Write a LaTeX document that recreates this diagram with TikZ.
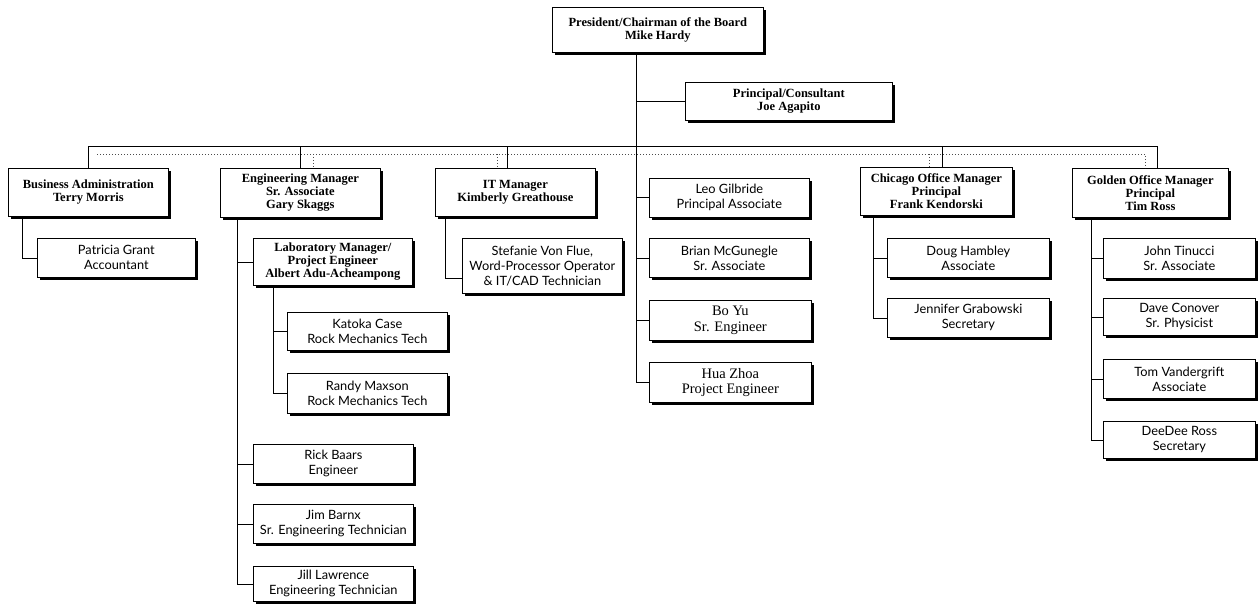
\documentclass[tikz,border=0pt]{standalone}
\usepackage{fontspec}
\setmainfont{Liberation Serif}
\newfontfamily\staffsans{Lato}
\usetikzlibrary{shadows}
\begin{document}
\begin{tikzpicture}[x=1pt,y=-1pt,
  box/.style={draw=black, line width=0.7pt, fill=white, align=center, inner sep=1pt,
    anchor=north west,
    general shadow={fill=black, shadow xshift=3pt, shadow yshift=-3pt}},
  head/.style={box, font=\fontsize{12.5}{13}\selectfont\bfseries},
  staff/.style={box, font=\staffsans\fontsize{12.8}{15}\selectfont},
  seriff/.style={box, font=\fontsize{14.5}{15.5}\selectfont},
  link/.style={draw=black, line width=0.7pt},
  dotlink/.style={draw=black!70, line width=0.5pt, dash pattern=on 1pt off 2pt}]
\useasboundingbox (0,0) rectangle (1260,604);
\fill[white] (0,0) rectangle (1260,604);

% top
\node[head, minimum width=211pt, minimum height=45pt] (pres) at (552,7) {President/Chairman of the Board\\Mike Hardy};
\node[head, minimum width=207pt, minimum height=38pt] (princ) at (685,82) {Principal/Consultant\\Joe Agapito};

% headers
\node[head, minimum width=160pt, minimum height=48pt] (ba) at (8,168) {Business Administration\\Terry Morris};
\node[head, minimum width=160pt, minimum height=49pt] (em) at (220,168) {Engineering Manager\\Sr. Associate\\Gary Skaggs};
\node[head, minimum width=160pt, minimum height=48pt] (it) at (435,168) {IT Manager\\Kimberly Greathouse};
\node[head, minimum width=152pt, minimum height=48pt] (chi) at (860,167) {Chicago Office Manager\\Principal\\Frank Kendorski};
\node[head, minimum width=156pt, minimum height=49pt] (gold) at (1072,168) {Golden Office Manager\\Principal\\Tim Ross};

% business admin
\node[staff, minimum width=158pt, minimum height=39pt] (pg) at (37,238) {Patricia Grant\\Accountant};

% engineering
\node[head, minimum width=159pt, minimum height=47pt] (lab) at (253,238) {Laboratory Manager/\\Project Engineer\\Albert Adu-Acheampong};
\node[staff, minimum width=160pt, minimum height=38pt] (kc) at (287,312) {Katoka Case\\Rock Mechanics Tech};
\node[staff, minimum width=160pt, minimum height=40pt] (rm) at (287,373) {Randy Maxson\\Rock Mechanics Tech};
\node[staff, minimum width=160pt, minimum height=39pt] (rb) at (253,444) {Rick Baars\\Engineer};
\node[staff, minimum width=160pt, minimum height=39pt] (jb) at (253,504) {Jim Barnx\\Sr. Engineering Technician};
\node[staff, minimum width=160pt, minimum height=35pt] (jl) at (253,566) {Jill Lawrence\\Engineering Technician};

% IT
\node[staff, minimum width=160pt, minimum height=55pt] (sv) at (462,238) {Stefanie Von Flue,\\Word-Processor Operator\\\& IT/CAD Technician};

% middle column
\node[staff, minimum width=160pt, minimum height=39pt] (lg) at (649,178) {Leo Gilbride\\Principal Associate};
\node[staff, minimum width=160pt, minimum height=39pt] (bm) at (649,238) {Brian McGunegle\\Sr. Associate};
\node[seriff, minimum width=162pt, minimum height=40pt] (by) at (649,300) {Bo Yu\\Sr. Engineer};
\node[seriff, minimum width=162pt, minimum height=40pt] (hz) at (649,362) {Hua Zhoa\\Project Engineer};

% Chicago
\node[staff, minimum width=162pt, minimum height=39pt] (dh) at (887,238) {Doug Hambley\\Associate};
\node[staff, minimum width=162pt, minimum height=39pt] (jg) at (887,298) {Jennifer Grabowski\\Secretary};

% Golden
\node[staff, minimum width=152pt, minimum height=40pt] (jt) at (1103,238) {John Tinucci\\Sr. Associate};
\node[staff, minimum width=152pt, minimum height=37pt] (dc) at (1103,298) {Dave Conover\\Sr. Physicist};
\node[staff, minimum width=152pt, minimum height=39pt] (tv) at (1103,359) {Tom Vandergrift\\Associate};
\node[staff, minimum width=152pt, minimum height=37pt] (dr) at (1103,421) {DeeDee Ross\\Secretary};

% ---- connectors ----
\coordinate (ptr) at ([xshift=84pt]pres.south west);
\coordinate (busy) at (0,146);
\coordinate (doty) at (0,154);
\coordinate (gtop) at ([xshift=85pt]gold.north west);

% trunk from president
\draw[link] (ptr) |- (hz.west);
\draw[link] (ptr |- princ.west) -- (princ.west);
\draw[link] (ptr |- lg.west) -- (lg.west);
\draw[link] (ptr |- bm.west) -- (bm.west);
\draw[link] (ptr |- by.west) -- (by.west);

% solid bus
\draw[link] (ba.north) |- (gtop |- busy) -- (gtop);
\draw[link] (em.north) -- (em.north |- busy);
\draw[link] ([xshift=-8pt]it.north) -- ([xshift=-8pt]it.north |- busy);
\draw[link] ([xshift=6pt]chi.north) -- ([xshift=6pt]chi.north |- busy);

% dotted bus
\coordinate (dotL) at (97,154);
\coordinate (dotR) at ([xshift=73pt]gold.north west);
\draw[dotlink] (dotL) -- (dotR |- doty) -- (dotR);
\draw[dotlink] ([xshift=13pt]em.north |- doty) -- ([xshift=13pt]em.north);
\draw[dotlink] ([xshift=-18pt]it.north |- doty) -- ([xshift=-18pt]it.north);
\draw[dotlink] ([xshift=-7pt]chi.north |- doty) -- ([xshift=-7pt]chi.north);

% business admin
\draw[link] ([xshift=14pt]ba.south west) |- (pg.west);

% engineering
\coordinate (et) at ([xshift=17pt]em.south west);
\draw[link] (et) |- (jl.west);
\draw[link] (et |- lab.west) -- (lab.west);
\draw[link] (et |- rb.west) -- (rb.west);
\draw[link] (et |- jb.west) -- (jb.west);
\coordinate (lt) at ([xshift=20pt]lab.south west);
\draw[link] (lt) |- (rm.west);
\draw[link] (lt |- kc.west) -- (kc.west);

% IT
\draw[link] ([xshift=10pt]it.south west) |- ([yshift=-12pt]sv.west);

% Chicago
\coordinate (ct) at ([xshift=13pt]chi.south west);
\draw[link] (ct) |- (jg.west);
\draw[link] (ct |- dh.west) -- (dh.west);

% Golden
\coordinate (gt) at ([xshift=19pt]gold.south west);
\draw[link] (gt) |- (dr.west);
\draw[link] (gt |- jt.west) -- (jt.west);
\draw[link] (gt |- dc.west) -- (dc.west);
\draw[link] (gt |- tv.west) -- (tv.west);
\end{tikzpicture}
\end{document}
